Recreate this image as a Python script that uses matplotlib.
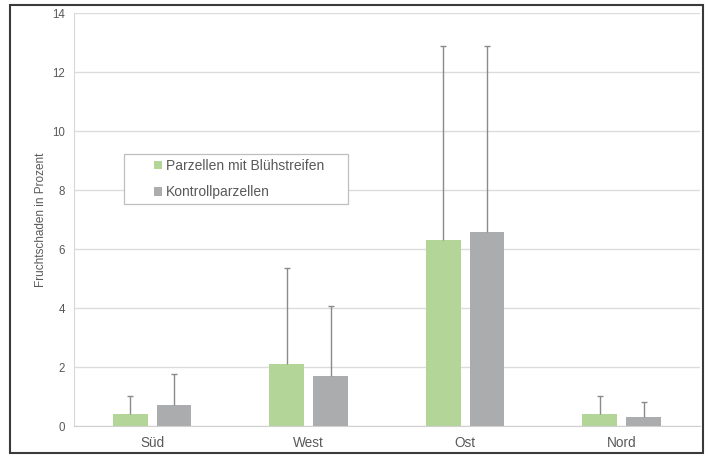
import numpy as np
import matplotlib
matplotlib.use('Agg')
from matplotlib import pyplot as plt
from matplotlib.patches import Rectangle

plt.rcParams['font.family'] = ['Liberation Sans', 'DejaVu Sans']

regions = ['Süd', 'West', 'Ost', 'Nord']
bluehstreifen = [0.4, 2.1, 6.3, 0.4]
bluehstreifen_err = [0.62, 3.25, 6.6, 0.62]
kontrolle = [0.7, 1.7, 6.6, 0.3]
kontrolle_err = [1.07, 2.38, 6.3, 0.52]
labels = ['Parzellen mit Blühstreifen', 'Kontrollparzellen']

green = '#b4d598'
grey = '#aaacae'
text_col = '#595959'

fig = plt.figure(figsize=(7.08, 4.57), dpi=100)
ax = fig.add_axes([0.1045, 0.0678, 0.884, 0.9027])

x = np.arange(len(regions))
w = 0.222
off = 0.14
ekw = dict(ecolor='#8a8a8a', elinewidth=1.0, capsize=2.5, capthick=1.0)
b1 = ax.bar(x - off, bluehstreifen, w, color=green, label=labels[0], zorder=2,
            yerr=[np.zeros(4), bluehstreifen_err], error_kw=ekw)
b2 = ax.bar(x + off, kontrolle, w, color=grey, label=labels[1], zorder=2,
            yerr=[np.zeros(4), kontrolle_err], error_kw=ekw)

# only upper caps, like Excel's "plus" error bars
for bc, vals in [(b1, bluehstreifen), (b2, kontrolle)]:
    for cl in bc.errorbar.lines[1]:
        if np.allclose(cl.get_ydata(), vals):
            cl.set_visible(False)

ax.set_xlim(-0.5, 3.5)
ax.set_ylim(0, 14)
ax.set_yticks(range(0, 15, 2))
ax.set_xticks(x)
ax.set_xticklabels(regions, fontsize=9.8, color=text_col)
ax.tick_params(axis='y', length=0, pad=6.5, labelsize=8.3, labelcolor=text_col)
ax.tick_params(axis='x', length=0, pad=7.5)
ax.grid(axis='y', color='#dcdcdc', linewidth=1.0, zorder=0)
for s in ['top', 'right']:
    ax.spines[s].set_visible(False)
ax.spines['bottom'].set_color('#d0d0d0')
ax.spines['left'].set_color('#d8d8d8')
ax.set_ylabel('Fruchtschaden in Prozent', fontsize=8.5, color=text_col, labelpad=4)

# legend box
fig.patches.append(Rectangle((124 / 708, 1 - 204 / 457), 224 / 708, 50 / 457,
                             transform=fig.transFigure, fill=True, facecolor='white',
                             edgecolor='#bfbfbf', linewidth=0.9, zorder=5))
leg = fig.legend(loc='upper left', bbox_to_anchor=(143 / 708, 1 - 148 / 457),
                 frameon=False, fontsize=10, handlelength=0.55, handleheight=0.55,
                 handletextpad=0.3, labelspacing=0.88, borderpad=0.3)
leg.set_zorder(6)
for t in leg.get_texts():
    t.set_color(text_col)

# outer frame
fig.patches.append(Rectangle((10 / 708, 1 - 453 / 457), 693 / 708, 448 / 457,
                             transform=fig.transFigure, fill=False,
                             edgecolor='#3a3a3a', linewidth=1.5))

fig.savefig('out.png', dpi=100)
